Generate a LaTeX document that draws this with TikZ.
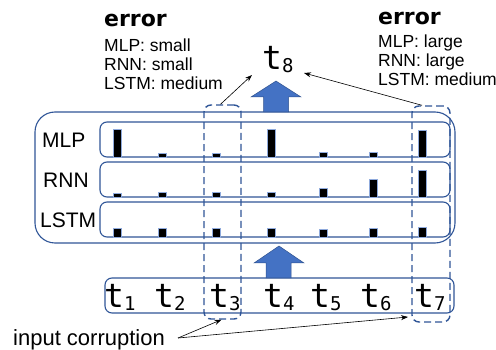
\documentclass[tikz,border=0pt]{standalone}
\usepackage{fontspec}
\setmainfont{Liberation Sans}
\newfontfamily\monofam{DejaVu Sans Mono}
\newfontfamily\heavyfam{DejaVu Sans}
\usetikzlibrary{arrows.meta}
\definecolor{frameblue}{HTML}{2F5597}
\definecolor{arrowblue}{HTML}{4472C4}
\definecolor{arrowedge}{HTML}{2F528F}
\definecolor{barrim}{HTML}{8FAADC}
% time step label t_n in a monospaced face
\newcommand{\tlab}[1]{{\monofam\fontsize{33}{33}\selectfont t\raisebox{-3pt}{\fontsize{19}{19}\selectfont #1}}}
\newcommand{\errhead}{\heavyfam\bfseries\fontsize{22}{22}\selectfont}
\newcommand{\infotxt}{\fontsize{17.5}{17.5}\selectfont}
\begin{document}
\begin{tikzpicture}[x=1pt,y=-1pt,
  frame/.style={draw=frameblue, line width=1.1pt, rounded corners=7pt, inner sep=0pt},
  corrbox/.style={draw=frameblue, line width=1.4pt, dash pattern=on 7pt off 4pt, rounded corners=7pt, inner sep=0pt},
  bar/.style={fill=black, draw=barrim, line width=0.9pt},
  blockarrow/.style={fill=arrowblue, draw=arrowedge, line width=0.5pt},
  pointer/.style={-{Stealth[length=7pt,width=5pt]}, line width=0.6pt},
  txt/.style={anchor=base west, inner sep=0pt},
  rowlabel/.style={anchor=west, inner sep=0pt, font=\fontsize{21}{21}\selectfont}]
\useasboundingbox (0,0) rectangle (496,350);

% model panel and its three rows
\node[frame, rounded corners=20pt, minimum width=420, minimum height=131] (models) at (245,177.5) {};
\node[frame, minimum width=350, minimum height=35] (rowmlp) at (275,139.5) {};
\node[frame, minimum width=350, minimum height=35] (rowrnn) at (275,179.5) {};
\node[frame, minimum width=350, minimum height=35] (rowlstm) at (275,219.5) {};
\node[rowlabel] (lmlp) at (42,140) {MLP};
\node[rowlabel] (lrnn) at (43,180) {RNN};
\node[rowlabel] (llstm) at (40,220) {LSTM};

% error bars per time step
\foreach \x/\h in {117/28,162/4,216/4,271/28,323/5,373/5,422/27}
  \draw[bar] (\x-4,157) rectangle (\x+4,157-\h);
\foreach \x/\h in {117/4,162/5,216/5,271/5,323/9,373/18,422/27}
  \draw[bar] (\x-4,197) rectangle (\x+4,197-\h);
\foreach \x/\h in {117/9,162/9,216/9,271/9,323/8,373/9,422/10}
  \draw[bar] (\x-4,237) rectangle (\x+4,237-\h);

% input sequence
\node[frame, minimum width=349, minimum height=35] (inseq) at (279.5,295.5) {};
\foreach \n/\x in {1/104,2/154,3/209,4/263,5/310,6/360,7/414}
  \node[txt] (in\n) at (\x,307) {\tlab{\n}};

% corrupted time steps
\node[corrbox, minimum width=37, minimum height=214] (c3) at (222.5,212) {};
\node[corrbox, minimum width=38, minimum height=216] (c7) at (431,214) {};

% block arrows
\draw[blockarrow] (263.5,112) -- (263.5,97) -- (251,97) -- (276,81) -- (301,97) -- (288.5,97) -- (288.5,112) -- cycle;
\draw[blockarrow] (266,278) -- (266,263) -- (254,263) -- (279,246) -- (304,263) -- (291,263) -- (291,278) -- cycle;

% predicted step
\node[txt] (t8) at (262,70) {\tlab{8}};

% error summaries
\node[txt] (errL) at (104,27) {\errhead error};
\node[txt] (errL1) at (104,52) {\infotxt MLP: small};
\node[txt] (errL2) at (104,71) {\infotxt RNN: small};
\node[txt] (errL3) at (104,90) {\infotxt LSTM: medium};
\node[txt] (errR) at (378,25) {\errhead error};
\node[txt] (errR1) at (378,48) {\infotxt MLP: large};
\node[txt] (errR2) at (378,67) {\infotxt RNN: large};
\node[txt] (errR3) at (378,86) {\infotxt LSTM: medium};

% pointers to the prediction
\coordinate (t8in1) at (252,75);
\coordinate (t8in2) at (304,73);
\draw[pointer] ([xshift=-2pt]c3.north) -- (t8in1);
\draw[pointer] ([xshift=-9pt]c7.north) -- (t8in2);

% input corruption label
\node[txt, font=\fontsize{22}{22}\selectfont] (corr) at (13,345) {input corruption};
\coordinate (corrtail) at (178,338);
\coordinate (c7tip) at (408,317);
\draw[pointer] (corrtail) -- ([xshift=-1pt]c3.south);
\draw[pointer] (corrtail) -- (c7tip);
\end{tikzpicture}
\end{document}
